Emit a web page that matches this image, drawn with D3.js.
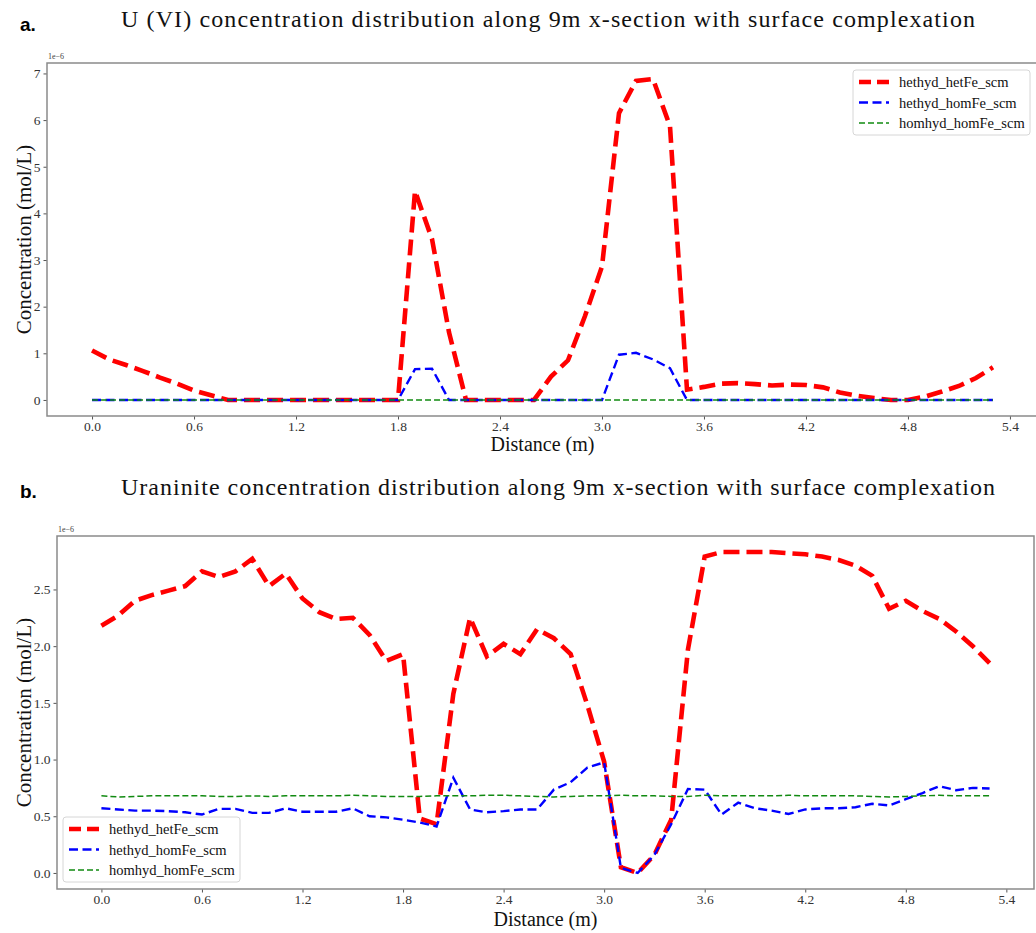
<!DOCTYPE html>
<html>
<head>
<meta charset="utf-8">
<script src="https://cdn.jsdelivr.net/npm/d3@7"></script>
<style>
  html, body { margin: 0; padding: 0; background: #fff; }
  svg { display: block; }
</style>
</head>
<body>
<svg id="chart" width="1036" height="933"></svg>
<script>
// Distance along the cross-section (m)
const distance = [
  0.0, 0.1, 0.2, 0.3, 0.4, 0.5, 0.6, 0.7, 0.8, 0.9,
  1.0, 1.1, 1.2, 1.3, 1.4, 1.5, 1.6, 1.7, 1.8, 1.9,
  2.0, 2.1, 2.2, 2.3, 2.4, 2.5, 2.6, 2.7, 2.8, 2.9,
  3.0, 3.1, 3.2, 3.3, 3.4, 3.5, 3.6, 3.7, 3.8, 3.9,
  4.0, 4.1, 4.2, 4.3, 4.4, 4.5, 4.6, 4.7, 4.8, 4.9,
  5.0, 5.1, 5.2, 5.3
];

const seriesNames = ["hethyd_hetFe_scm", "hethyd_homFe_scm", "homhyd_homFe_scm"];

// Panel a: U(VI) concentration, units of 1e-6 mol/L
const uvi_hethyd_hetFe = [
  1.06, 0.87, 0.75, 0.62, 0.48, 0.35, 0.20, 0.10, 0.00, 0.00,
  0.00, 0.00, 0.00, 0.00, 0.00, 0.00, 0.00, 0.00, 0.00, 4.48,
  3.45, 1.45, 0.00, 0.00, 0.00, 0.00, 0.00, 0.50, 0.85, 1.80,
  2.86, 6.15, 6.84, 6.88, 5.87, 0.22, 0.28, 0.35, 0.36, 0.34,
  0.31, 0.33, 0.32, 0.27, 0.16, 0.09, 0.04, 0.00, 0.00, 0.07,
  0.18, 0.30, 0.47, 0.70
];
const uvi_hethyd_homFe = [
  0.00, 0.00, 0.00, 0.00, 0.00, 0.00, 0.00, 0.00, 0.00, 0.00,
  0.00, 0.00, 0.00, 0.00, 0.00, 0.00, 0.00, 0.00, 0.00, 0.66,
  0.67, 0.00, 0.00, 0.00, 0.00, 0.00, 0.00, 0.00, 0.00, 0.00,
  0.00, 0.97, 1.01, 0.87, 0.68, 0.00, 0.00, 0.00, 0.00, 0.00,
  0.00, 0.00, 0.00, 0.00, 0.00, 0.00, 0.00, 0.00, 0.00, 0.00,
  0.00, 0.00, 0.00, 0.00
];
const uvi_homhyd_homFe = [
  0.00, 0.00, 0.00, 0.00, 0.00, 0.00, 0.00, 0.00, 0.00, 0.00,
  0.00, 0.00, 0.00, 0.00, 0.00, 0.00, 0.00, 0.00, 0.00, 0.00,
  0.00, 0.00, 0.00, 0.00, 0.00, 0.00, 0.00, 0.00, 0.00, 0.00,
  0.00, 0.00, 0.00, 0.00, 0.00, 0.00, 0.00, 0.00, 0.00, 0.00,
  0.00, 0.00, 0.00, 0.00, 0.00, 0.00, 0.00, 0.00, 0.00, 0.00,
  0.00, 0.00, 0.00, 0.00
];

// Panel b: uraninite concentration, units of 1e-6 mol/L
const ur_hethyd_hetFe = [
  2.18, 2.27, 2.40, 2.45, 2.49, 2.53, 2.66, 2.61, 2.66, 2.77,
  2.53, 2.64, 2.42, 2.30, 2.24, 2.25, 2.10, 1.87, 1.93, 0.48,
  0.43, 1.58, 2.25, 1.91, 2.02, 1.93, 2.15, 2.07, 1.93, 1.48,
  0.98, 0.05, 0.00, 0.16, 0.47, 1.97, 2.79, 2.83, 2.83, 2.83,
  2.83, 2.82, 2.81, 2.79, 2.76, 2.71, 2.62, 2.33, 2.40, 2.31,
  2.24, 2.13, 2.00, 1.85
];
const ur_hethyd_homFe = [
  0.57, 0.56, 0.55, 0.55, 0.545, 0.535, 0.515, 0.565, 0.565, 0.53,
  0.53, 0.57, 0.54, 0.54, 0.54, 0.57, 0.50, 0.49, 0.47, 0.445,
  0.41, 0.84, 0.56, 0.535, 0.545, 0.56, 0.56, 0.735, 0.80, 0.93,
  0.975, 0.045, 0.00, 0.16, 0.43, 0.74, 0.735, 0.515, 0.62, 0.57,
  0.55, 0.52, 0.56, 0.57, 0.57, 0.58, 0.61, 0.595, 0.65, 0.705,
  0.765, 0.73, 0.75, 0.745
];
const ur_homhyd_homFe = [
  0.68, 0.67, 0.675, 0.68, 0.68, 0.68, 0.68, 0.675, 0.675, 0.68,
  0.675, 0.68, 0.68, 0.68, 0.68, 0.685, 0.68, 0.675, 0.675, 0.675,
  0.68, 0.68, 0.68, 0.685, 0.685, 0.68, 0.675, 0.67, 0.675, 0.68,
  0.68, 0.685, 0.68, 0.68, 0.675, 0.675, 0.685, 0.68, 0.68, 0.68,
  0.68, 0.685, 0.68, 0.68, 0.68, 0.68, 0.675, 0.67, 0.675, 0.68,
  0.685, 0.68, 0.68, 0.68
];

// Tick labels
const xTickValues = [0.0, 0.6, 1.2, 1.8, 2.4, 3.0, 3.6, 4.2, 4.8, 5.4];
const xTickLabels = ["0.0", "0.6", "1.2", "1.8", "2.4", "3.0", "3.6", "4.2", "4.8", "5.4"];
const yTickValuesA = [0, 1, 2, 3, 4, 5, 6, 7];
const yTickLabelsA = ["0", "1", "2", "3", "4", "5", "6", "7"];
const yTickValuesB = [0.0, 0.5, 1.0, 1.5, 2.0, 2.5];
const yTickLabelsB = ["0.0", "0.5", "1.0", "1.5", "2.0", "2.5"];

// Line styles per series
const styles = [
  { color: "#ff0000", width: 4.6, dash: "16,7" },
  { color: "#0000ff", width: 2.4, dash: "9,4.5" },
  { color: "#118a11", width: 1.5, dash: "6,3" }
];

const SERIF = "'Liberation Serif', 'Times New Roman', serif";
const SANS = "'Liberation Sans', Arial, sans-serif";

const svg = d3.select("#chart");

// Matplotlib-style 5% padding around the data range
function padded(values) {
  const [lo, hi] = d3.extent(values);
  const m = (hi - lo) * 0.05;
  return [lo - m, hi + m];
}

function drawPanel(cfg) {
  const g = svg.append("g");
  const { left, right, top, bottom } = cfg.frame;

  const x = d3.scaleLinear().domain(padded(distance)).range([left, right]);
  const y = d3.scaleLinear().domain(padded(cfg.series.flat())).range([bottom, top]);

  // Panel letter and heading
  svg.append("text")
    .attr("x", 20).attr("y", cfg.letterY)
    .attr("font-family", SANS).attr("font-weight", "bold")
    .attr("font-size", 19).attr("fill", "#000")
    .text(cfg.letter);
  svg.append("text")
    .attr("x", cfg.titleX).attr("y", cfg.titleY)
    .attr("font-family", SERIF).attr("font-size", 24).attr("fill", "#111")
    .attr("textLength", cfg.titleLen).attr("lengthAdjust", "spacing")
    .text(cfg.title);

  // Axes
  const xAxis = d3.axisBottom(x)
    .tickValues(xTickValues)
    .tickFormat((d, i) => xTickLabels[i])
    .tickSize(3.5).tickPadding(2);
  const yAxis = d3.axisLeft(y)
    .tickValues(cfg.yTicks)
    .tickFormat((d, i) => cfg.yLabels[i])
    .tickSize(3.5).tickPadding(3);

  const gx = g.append("g").attr("transform", `translate(0,${bottom})`).call(xAxis);
  const gy = g.append("g").attr("transform", `translate(${left},0)`).call(yAxis);
  [gx, gy].forEach(a => {
    a.select(".domain").remove();
    a.selectAll(".tick line").attr("stroke", "#555").attr("stroke-width", 1);
    a.selectAll(".tick text")
      .attr("font-family", SERIF).attr("font-size", 13.5).attr("fill", "#333");
  });

  // Clip lines to the frame
  const clipId = "clip-" + cfg.letter.replace(".", "");
  g.append("clipPath").attr("id", clipId)
    .append("rect").attr("x", left).attr("y", top)
    .attr("width", right - left).attr("height", bottom - top);

  const line = d3.line().x((d, i) => x(distance[i])).y(d => y(d));
  const lines = g.append("g").attr("clip-path", `url(#${clipId})`);
  cfg.series.forEach((vals, k) => {
    lines.append("path")
      .datum(vals)
      .attr("d", line)
      .attr("fill", "none")
      .attr("stroke", styles[k].color)
      .attr("stroke-width", styles[k].width)
      .attr("stroke-dasharray", styles[k].dash)
      .attr("stroke-linejoin", "miter");
  });

  // Frame
  g.append("rect")
    .attr("x", left).attr("y", top)
    .attr("width", right - left).attr("height", bottom - top)
    .attr("fill", "none").attr("stroke", "#8a8a8a").attr("stroke-width", 1.5);

  // Offset (scale) text
  g.append("text")
    .attr("x", left + 1).attr("y", top - 4)
    .attr("font-family", SERIF).attr("font-size", 8).attr("fill", "#444")
    .text("1e\u22126");

  // Axis labels
  g.append("text")
    .attr("x", (left + right) / 2).attr("y", cfg.xLabelY)
    .attr("text-anchor", "middle")
    .attr("font-family", SERIF).attr("font-size", 20).attr("fill", "#111")
    .text("Distance (m)");
  g.append("text")
    .attr("transform", `translate(${cfg.yLabelX},${(top + bottom) / 2}) rotate(-90)`)
    .attr("text-anchor", "middle")
    .attr("font-family", SERIF).attr("font-size", 21).attr("fill", "#111")
    .text("Concentration (mol/L)");

  // Legend
  const L = cfg.legend;
  const lg = g.append("g").attr("transform", `translate(${L.x},${L.y})`);
  lg.append("rect")
    .attr("x", 0).attr("y", 0).attr("width", L.w).attr("height", L.h)
    .attr("rx", 3).attr("fill", "#fff").attr("fill-opacity", 0.85)
    .attr("stroke", "#d6d6d6").attr("stroke-width", 1);
  seriesNames.forEach((name, k) => {
    const cy = 12 + k * 20.5;
    lg.append("line")
      .attr("x1", 6).attr("x2", 36).attr("y1", cy).attr("y2", cy)
      .attr("stroke", styles[k].color)
      .attr("stroke-width", styles[k].width)
      .attr("stroke-dasharray", k === 0 ? "12,6" : styles[k].dash);
    lg.append("text")
      .attr("x", 46).attr("y", cy + 5)
      .attr("font-family", SERIF).attr("font-size", 14.5).attr("fill", "#111")
      .text(name);
  });
}

drawPanel({
  letter: "a.", letterY: 31,
  title: "U (VI) concentration distribution along 9m x-section with surface complexation",
  titleX: 121, titleY: 27, titleLen: 854,
  frame: { left: 47, right: 1038, top: 63, bottom: 416 },
  series: [uvi_hethyd_hetFe, uvi_hethyd_homFe, uvi_homhyd_homFe],
  yTicks: yTickValuesA, yLabels: yTickLabelsA,
  xLabelY: 451, yLabelX: 31,
  legend: { x: 853, y: 70, w: 177, h: 65 }
});

drawPanel({
  letter: "b.", letterY: 498,
  title: "Uraninite concentration distribution along 9m x-section with surface complexation",
  titleX: 121, titleY: 495, titleLen: 874,
  frame: { left: 57, right: 1034, top: 536, bottom: 889 },
  series: [ur_hethyd_hetFe, ur_hethyd_homFe, ur_homhyd_homFe],
  yTicks: yTickValuesB, yLabels: yTickLabelsB,
  xLabelY: 926, yLabelX: 31,
  legend: { x: 63, y: 817, w: 177, h: 65 }
});
</script>
</body>
</html>
